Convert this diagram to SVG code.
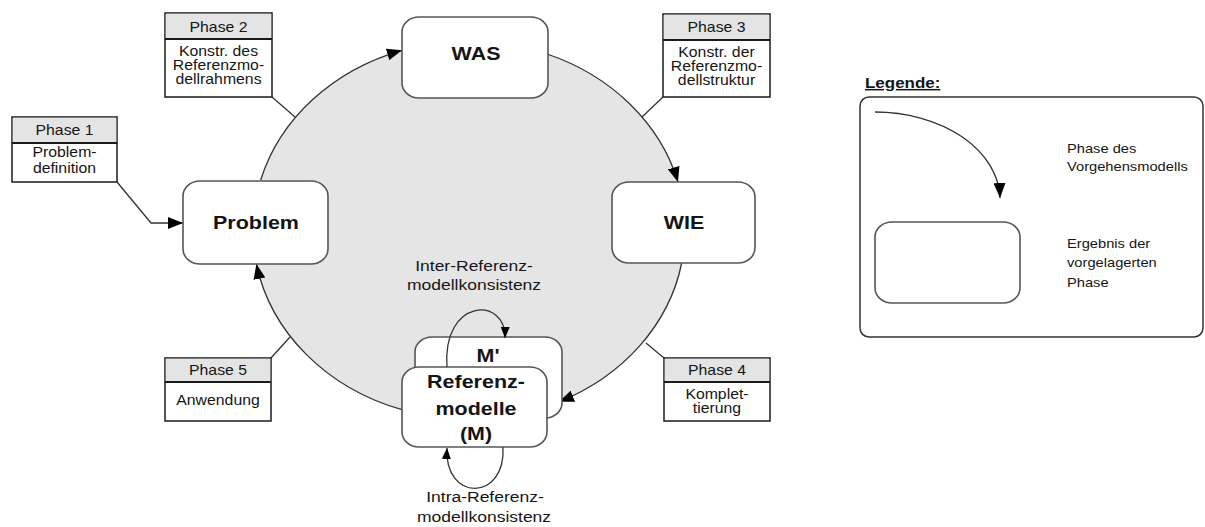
<svg xmlns="http://www.w3.org/2000/svg" width="1205" height="527" viewBox="0 0 1205 527">
  <style>
    text { font-family: "Liberation Sans", Arial, sans-serif; fill: #151515; text-anchor: middle; }
    .node { fill: #ffffff; stroke: #555555; stroke-width: 1.6; }
    .big { font-size: 19px; font-weight: bold; }
    .ph { font-size: 14px; }
    .lbl { font-size: 15.5px; }
    .leg { font-size: 13px; text-anchor: start; }
    .pbox { fill: #ffffff; stroke: #1a1a1a; stroke-width: 1.5; }
    .phead { fill: #e4e4e4; stroke: none; }
    .sep { stroke: #1a1a1a; stroke-width: 2; }
    .cycle { fill: none; stroke: #333333; stroke-width: 1.3; }
    .lead { fill: none; stroke: #333333; stroke-width: 1.3; }
  </style>
  <defs>
    <marker id="arrow" markerUnits="userSpaceOnUse" markerWidth="16" markerHeight="12" refX="15" refY="6" orient="auto">
      <path d="M0,0 L15,6 L0,12 z" fill="#000000"/>
    </marker>
    <marker id="arrowSmall" markerUnits="userSpaceOnUse" markerWidth="12" markerHeight="10" refX="11" refY="4.5" orient="auto">
      <path d="M0,0 L11,4.5 L0,9 z" fill="#000000"/>
    </marker>
  </defs>

  <rect width="1205" height="527" fill="#ffffff"/>

  <!-- procedure cycle background -->
  <ellipse id="cycle-area" cx="469" cy="230" rx="216" ry="189" fill="#e5e5e5"/>

  <!-- connectors -->
  <g id="connectors">
    <path class="cycle" d="M 260.7 180 A 216 189 0 0 1 402 50.3" marker-end="url(#arrow)"/>
    <path class="cycle" d="M 547 54 A 216 189 0 0 1 678 182" marker-end="url(#arrow)"/>
    <path class="cycle" d="M 681.7 263 A 216 189 0 0 1 559 401.8" marker-end="url(#arrow)"/>
    <path class="cycle" d="M 402 409.7 A 216 189 0 0 1 256.4 264" marker-end="url(#arrow)"/>
    <path class="lead" d="M 117 182 L 151 223 L 183 223" marker-end="url(#arrow)"/>
    <line class="lead" x1="272" y1="97" x2="295" y2="117"/>
    <line class="lead" x1="663" y1="97" x2="642" y2="117"/>
    <line class="lead" x1="664" y1="358" x2="646" y2="343"/>
    <line class="lead" x1="271" y1="358" x2="290" y2="337"/>
  </g>

  <!-- result nodes -->
  <g id="node-problem">
    <rect class="node" x="183" y="181" width="145" height="83" rx="17" ry="15"/>
    <text class="big" transform="translate(256 229) scale(1.13 1)">Problem</text>
  </g>
  <g id="node-was">
    <rect class="node" x="402" y="17" width="146" height="81" rx="17" ry="15"/>
    <text class="big" transform="translate(476 60) scale(1.13 1)">WAS</text>
  </g>
  <g id="node-wie">
    <rect class="node" x="612" y="182" width="143" height="81" rx="17" ry="15"/>
    <text class="big" transform="translate(684 229) scale(1.13 1)">WIE</text>
  </g>
  <g id="node-m-prime">
    <rect class="node" x="415" y="337" width="147" height="81" rx="17" ry="15"/>
    <text class="big" transform="translate(488 362) scale(1.13 1)">M'</text>
  </g>
  <g id="node-referenzmodelle">
    <rect class="node" x="402" y="367" width="145" height="80" rx="17" ry="15"/>
    <text class="big" transform="translate(476 388) scale(1.13 1)">Referenz-</text>
    <text class="big" transform="translate(476 415) scale(1.13 1)">modelle</text>
    <text class="big" transform="translate(476 440) scale(1.13 1)">(M)</text>
  </g>

  <!-- consistency loops -->
  <g id="loops">
    <path class="lead" d="M 447 367 C 442 298, 506 296, 505 338" marker-end="url(#arrowSmall)"/>
    <path class="lead" d="M 503 447 C 506 502, 444 502, 447 448" marker-end="url(#arrowSmall)"/>
  </g>
  <g id="label-inter">
    <text class="lbl" transform="translate(474 271) scale(1.13 1)">Inter-Referenz-</text>
    <text class="lbl" transform="translate(474 290) scale(1.13 1)">modellkonsistenz</text>
  </g>
  <g id="label-intra">
    <text class="lbl" transform="translate(485 502) scale(1.13 1)">Intra-Referenz-</text>
    <text class="lbl" transform="translate(484 522) scale(1.13 1)">modellkonsistenz</text>
  </g>

  <!-- phase boxes -->
  <g id="phase-1">
    <rect class="pbox" x="12" y="117" width="105" height="65"/>
    <rect class="phead" x="12.75" y="117.75" width="103.5" height="25.25"/>
    <line class="sep" x1="12" y1="143" x2="117" y2="143"/>
    <text class="ph" transform="translate(64.5 135) scale(1.13 1)">Phase 1</text>
    <text class="ph" transform="translate(64.5 157) scale(1.13 1)">Problem-</text>
    <text class="ph" transform="translate(64.5 173) scale(1.13 1)">definition</text>
  </g>
  <g id="phase-2">
    <rect class="pbox" x="165" y="13" width="107" height="84"/>
    <rect class="phead" x="165.75" y="13.75" width="105.5" height="25.25"/>
    <line class="sep" x1="165" y1="39" x2="272" y2="39"/>
    <text class="ph" transform="translate(218.5 32) scale(1.13 1)">Phase 2</text>
    <text class="ph" transform="translate(218.5 56) scale(1.13 1)">Konstr. des</text>
    <text class="ph" transform="translate(218.5 70) scale(1.13 1)">Referenzmo-</text>
    <text class="ph" transform="translate(218.5 84) scale(1.13 1)">dellrahmens</text>
  </g>
  <g id="phase-3">
    <rect class="pbox" x="663" y="14" width="107" height="83"/>
    <rect class="phead" x="663.75" y="14.75" width="105.5" height="25.25"/>
    <line class="sep" x1="663" y1="40" x2="770" y2="40"/>
    <text class="ph" transform="translate(716.5 32) scale(1.13 1)">Phase 3</text>
    <text class="ph" transform="translate(716.5 57) scale(1.13 1)">Konstr. der</text>
    <text class="ph" transform="translate(716.5 71) scale(1.13 1)">Referenzmo-</text>
    <text class="ph" transform="translate(716.5 85) scale(1.13 1)">dellstruktur</text>
  </g>
  <g id="phase-4">
    <rect class="pbox" x="664" y="358" width="106" height="63"/>
    <rect class="phead" x="664.75" y="358.75" width="104.5" height="23.25"/>
    <line class="sep" x1="664" y1="382" x2="770" y2="382"/>
    <text class="ph" transform="translate(717 375) scale(1.13 1)">Phase 4</text>
    <text class="ph" transform="translate(717 399) scale(1.13 1)">Komplet-</text>
    <text class="ph" transform="translate(717 413) scale(1.13 1)">tierung</text>
  </g>
  <g id="phase-5">
    <rect class="pbox" x="165" y="358" width="106" height="63"/>
    <rect class="phead" x="165.75" y="358.75" width="104.5" height="23.25"/>
    <line class="sep" x1="165" y1="382" x2="271" y2="382"/>
    <text class="ph" transform="translate(218 375) scale(1.13 1)">Phase 5</text>
    <text class="ph" transform="translate(218 405) scale(1.13 1)">Anwendung</text>
  </g>

  <!-- legend -->
  <g id="legend">
    <text class="leg" transform="translate(865 88) scale(1.13 1)" style="font-size:15px;font-weight:bold;text-decoration:underline">Legende:</text>
    <rect x="860" y="97" width="343" height="240" rx="9" ry="9" fill="#ffffff" stroke="#333333" stroke-width="1.5"/>
    <path class="lead" d="M 875 112 A 125 88 0 0 1 1000 198" marker-end="url(#arrow)"/>
    <rect class="node" x="875" y="222" width="145" height="81" rx="17" ry="15"/>
    <text class="leg" transform="translate(1067 153) scale(1.13 1)">Phase des</text>
    <text class="leg" transform="translate(1067 171) scale(1.13 1)">Vorgehensmodells</text>
    <text class="leg" transform="translate(1067 248) scale(1.13 1)">Ergebnis der</text>
    <text class="leg" transform="translate(1067 267) scale(1.13 1)">vorgelagerten</text>
    <text class="leg" transform="translate(1067 287) scale(1.13 1)">Phase</text>
  </g>
</svg>
